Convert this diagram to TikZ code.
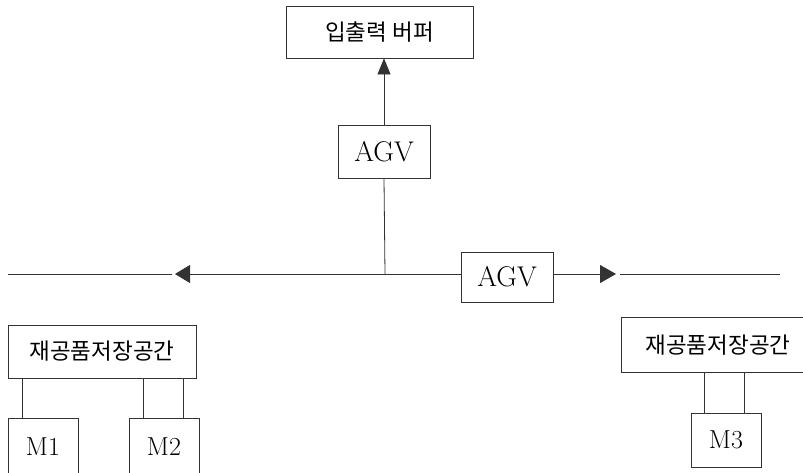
\documentclass[tikz,border=0pt]{standalone}
\usepackage{fontspec}
\newfontfamily\kor{Noto Sans CJK KR}
\usetikzlibrary{arrows.meta}
\begin{document}
\begin{tikzpicture}[x=1pt,y=-1pt,line width=0.8pt,draw=black!80,
  box/.style={draw=black!80,line width=0.8pt,inner sep=0pt,anchor=center},
  kbox/.style={box,font=\kor\fontsize{22.5}{24}\selectfont},
  lbox/.style={box,font=\fontsize{28.5}{30}\selectfont},
  mbox/.style={box,font=\fontsize{26}{28}\selectfont},
  ltipstyle/.style={-{Triangle[length=15pt,width=18pt]}},
  rtipstyle/.style={-{Triangle[length=16pt,width=18pt]}},
  utipstyle/.style={-{Triangle[length=16pt,width=13pt]}},
  ]
\useasboundingbox (0,0) rectangle (803,472);
\clip (0,0) rectangle (803,472);
\node[kbox,minimum width=187pt,minimum height=52pt] (buf) at (379.5,32) {입출력 버퍼};
\node[lbox,minimum width=92pt,minimum height=53pt] (agv1) at (384,151.5) {AGV};
\node[lbox,minimum width=92pt,minimum height=50pt] (agv2) at (507,277) {AGV};
\node[kbox,minimum width=188pt,minimum height=53pt] (wl) at (102,351.5) {재공품저장공간};
\node[kbox,draw=none,minimum width=192pt,minimum height=54pt] (wr) at (718,345) {재공품저장공간};
\draw (wr.north east) -- (wr.north west) -- (wr.south west) -- (wr.south east);
\node[mbox,minimum width=70pt,minimum height=58pt] (m1) at (43,447) {M1};
\node[mbox,minimum width=70pt,minimum height=58pt] (m2) at (164,447) {M2};
\node[mbox,minimum width=70pt,minimum height=54pt] (m3) at (726,440) {M3};
% coordinates
\coordinate (jn) at (385,274);
\coordinate (ltip) at (175,274);
\coordinate (lstart) at (172,274);
\coordinate (lend) at (8,274);
\coordinate (rtip) at (616,274);
\coordinate (rstart) at (620,274);
\coordinate (rend) at (780,274);
% connectors
\draw[utipstyle] (agv1.north) -- (agv1.north |- buf.south);
\draw (agv1.south) -- (jn);
\draw[ltipstyle] (jn -| agv2.west) -- (ltip);
\draw (lstart) -- (lend);
\draw[rtipstyle] (jn -| agv2.east) -- (rtip);
\draw (rstart) -- (rend);
\draw (wl.south -| 22,0) -- (m1.north -| 22,0);
\draw (wl.south -| 143,0) -- (m2.north -| 143,0);
\draw (wl.south -| 183,0) -- (m2.north -| 183,0);
\draw (wr.south -| 704,0) -- (m3.north -| 704,0);
\draw (wr.south -| 744,0) -- (m3.north -| 744,0);
\end{tikzpicture}
\end{document}
